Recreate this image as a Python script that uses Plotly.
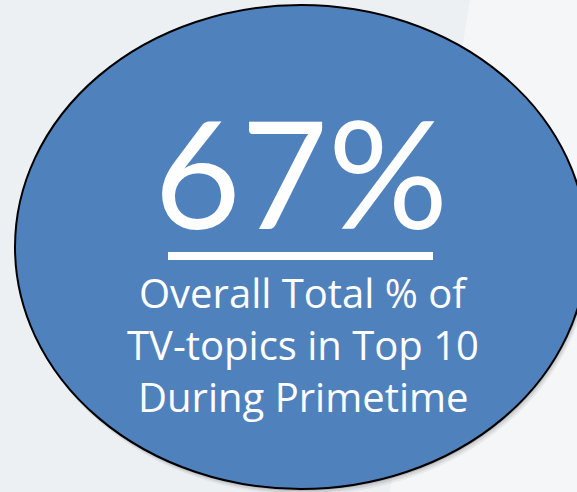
import plotly.graph_objects as go

# ---- data ----
share_value = [67]
value_suffix = ["%"]
caption_lines = ["Overall Total % of", "TV-topics in Top 10", "During Primetime"]

W, H = 577, 492
BLUE = "#4F81BD"

fig = go.Figure()
# invisible trace to establish the axes
fig.add_trace(go.Scatter(x=[0, W], y=[0, H], mode="markers",
                         marker=dict(opacity=0), hoverinfo="skip", showlegend=False))

shapes = []
# lighter background area on the right
shapes.append(dict(type="path", path=f"M 470 0 L {W} 0 L {W} {H} L 390 {H} Z",
                   fillcolor="#F5F6F8", line=dict(width=0), layer="below"))
# shadow of the ellipse
for off, op in [(6, 0.05), (4, 0.08), (2, 0.12)]:
    shapes.append(dict(type="circle", x0=15 + off / 2, x1=587 + off / 2, y0=5 + off, y1=489 + off,
                       fillcolor=f"rgba(0,0,0,{op})", line=dict(width=0), layer="below"))
# main ellipse
shapes.append(dict(type="circle", x0=15, x1=587, y0=5, y1=489,
                   fillcolor=BLUE, line=dict(color="#000000", width=2), layer="below"))
# underline
shapes.append(dict(type="rect", x0=168, x1=433, y0=252, y1=260,
                   fillcolor="white", line=dict(width=0), layer="above"))

annotations = [dict(x=301, y=171, xref="x", yref="y",
                    text=f"{share_value[0]}{value_suffix[0]}",
                    showarrow=False, xanchor="center", yanchor="middle",
                    font=dict(family="Lato", size=150, color="white"))]
line_y = [292, 344, 396]
for txt, yy in zip(caption_lines, line_y):
    annotations.append(dict(x=303, y=yy, xref="x", yref="y", text=txt, showarrow=False,
                            xanchor="center", yanchor="middle",
                            font=dict(family="Open Sans", size=40, color="white")))

fig.update_layout(
    width=W, height=H, margin=dict(l=0, r=0, t=0, b=0),
    paper_bgcolor="#ECF0F3", plot_bgcolor="rgba(0,0,0,0)",
    xaxis=dict(range=[0, W], visible=False, fixedrange=True),
    yaxis=dict(range=[H, 0], visible=False, fixedrange=True),
    shapes=shapes, annotations=annotations, showlegend=False,
)
fig.write_html("out.html", config={"displayModeBar": False},
               post_script="document.body.style.margin='0px';document.body.style.overflow='hidden';")
